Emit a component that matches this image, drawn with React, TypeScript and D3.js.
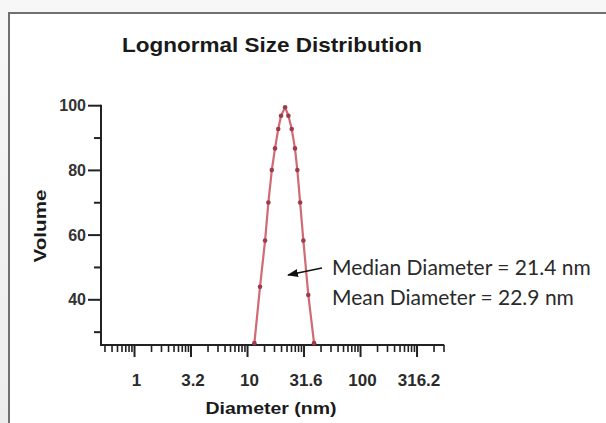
import React from "react";
import * as d3 from "d3";

const W = 606;
const H = 423;

// Data
const diameters = [11.5, 12.9, 14.3, 15.3, 16.4, 17.5, 18.7, 19.8, 21.5, 23.0, 24.6, 26.3, 27.6, 29.2, 31.2, 34.5, 38.8];
const volumes = [26.6, 44.0, 58.3, 70.1, 80.1, 86.8, 92.8, 96.9, 99.5, 96.9, 92.8, 86.8, 80.1, 70.1, 58.3, 41.5, 26.6];

const xTickValues = [1, 3.1623, 10, 31.623, 100, 316.23];
const xTickLabels = ["1", "3.2", "10", "31.6", "100", "316.2"];
const yTickValues = [40, 60, 80, 100];
const yTickLabels = ["40", "60", "80", "100"];
const yMinorValues = [30, 50, 70, 90];

const titleText = "Lognormal  Size Distribution";
const xTitle = "Diameter  (nm)";
const yTitle = "Volume";
const notes = ["Median Diameter = 21.4 nm", "Mean Diameter = 22.9 nm"];

export default function App() {
  const x = d3.scaleLog().domain([0.5, 550]).range([100.5, 444.2]);
  const y = d3.scaleLinear().domain([26, 100]).range([345.1, 105.7]);

  const intervalStarts = [0.31623, 1, 3.1623, 10, 31.623, 100, 316.23];
  const minor: number[] = [];
  intervalStarts.forEach((m) => {
    for (let k = 2; k <= 9; k++) {
      const v = m * Math.sqrt(k);
      if (v >= 0.5 && v <= 550) minor.push(v);
    }
  });

  const pts = diameters.map((d, i) => [d, volumes[i]] as [number, number]);
  const line = d3
    .line<[number, number]>()
    .x((d) => x(d[0]))
    .y((d) => y(d[1]));

  const axisY = 345;
  const axisX = 101;
  const font = "Liberation Sans, Arial, sans-serif";

  return (
    <div style={{ position: "fixed", left: 0, top: 0, width: W, height: H }}>
      <svg width={W} height={H} style={{ display: "block" }}>
        <defs>
          <linearGradient id="bgTop" x1="0" y1="0" x2="0" y2="1">
            <stop offset="0" stopColor="#f7f7f7" />
            <stop offset="1" stopColor="#ececec" />
          </linearGradient>
          <marker id="ah" markerWidth="11" markerHeight="8" refX="10" refY="4" orient="auto" markerUnits="userSpaceOnUse">
            <path d="M0,0 L11,4 L0,8 Z" fill="#111" />
          </marker>
        </defs>
        <rect x={0} y={0} width={W} height={H} fill="url(#bgTop)" />
        <rect x={9} y={13} width={W} height={H} fill="#ffffff" stroke="#707070" strokeWidth={2} />

        <text
          x={122}
          y={52}
          fontFamily={font}
          fontWeight="bold"
          fontSize={21}
          fill="#1a1a1a"
          textLength={300}
          lengthAdjust="spacingAndGlyphs"
        >
          {titleText}
        </text>

        {/* Y axis */}
        <line x1={axisX} x2={axisX} y1={y(100) - 1} y2={axisY + 1} stroke="#222" strokeWidth={2} />
        {yTickValues.map((v, i) => (
          <g key={"yt" + v}>
            <line x1={axisX - 13} x2={axisX} y1={y(v)} y2={y(v)} stroke="#222" strokeWidth={2} />
            <text
              x={axisX - 15}
              y={y(v) + 5.5}
              textAnchor="end"
              fontFamily={font}
              fontWeight="bold"
              fontSize={16}
              fill="#333"
            >
              {yTickLabels[i]}
            </text>
          </g>
        ))}
        {yMinorValues.map((v) => (
          <line key={"ym" + v} x1={axisX - 7} x2={axisX} y1={y(v)} y2={y(v)} stroke="#222" strokeWidth={2} />
        ))}
        <text
          transform={`translate(46,${226}) rotate(-90)`}
          textAnchor="middle"
          fontFamily={font}
          fontWeight="bold"
          fontSize={17}
          fill="#1a1a1a"
          textLength={73}
          lengthAdjust="spacingAndGlyphs"
        >
          {yTitle}
        </text>

        {/* X axis */}
        <line x1={axisX - 1} x2={x(550)} y1={axisY} y2={axisY} stroke="#222" strokeWidth={2} />
        {minor.map((v, i) => (
          <line key={"xm" + i} x1={x(v)} x2={x(v)} y1={axisY} y2={axisY + 7} stroke="#222" strokeWidth={1.6} />
        ))}
        {xTickValues.map((v, i) => (
          <g key={"xt" + i}>
            <line x1={x(v)} x2={x(v)} y1={axisY} y2={axisY + 12} stroke="#222" strokeWidth={2} />
            <text
              x={x(v) + 2}
              y={386}
              textAnchor="middle"
              fontFamily={font}
              fontWeight="bold"
              fontSize={17}
              fill="#2a2a2a"
            >
              {xTickLabels[i]}
            </text>
          </g>
        ))}
        <text
          x={271}
          y={414}
          textAnchor="middle"
          fontFamily={font}
          fontWeight="bold"
          fontSize={17}
          fill="#1a1a1a"
          textLength={131}
          lengthAdjust="spacingAndGlyphs"
        >
          {xTitle}
        </text>

        {/* Data */}
        <path d={line(pts) || ""} fill="none" stroke="#d06a74" strokeWidth={2.2} strokeLinejoin="round" />
        {pts.map((p, i) => (
          <circle key={"p" + i} cx={x(p[0])} cy={y(p[1])} r={2.3} fill="#9e3b4a" />
        ))}

        {/* Annotation */}
        <line x1={322} y1={268} x2={288} y2={275} stroke="#111" strokeWidth={1.5} markerEnd="url(#ah)" />
        {notes.map((t, i) => (
          <text
            key={"n" + i}
            x={332}
            y={275 + i * 30}
            fontFamily="Lato, Open Sans, sans-serif"
            fontSize={21}
            fill="#2a2a2a"
          >
            {t}
          </text>
        ))}
      </svg>
    </div>
  );
}
